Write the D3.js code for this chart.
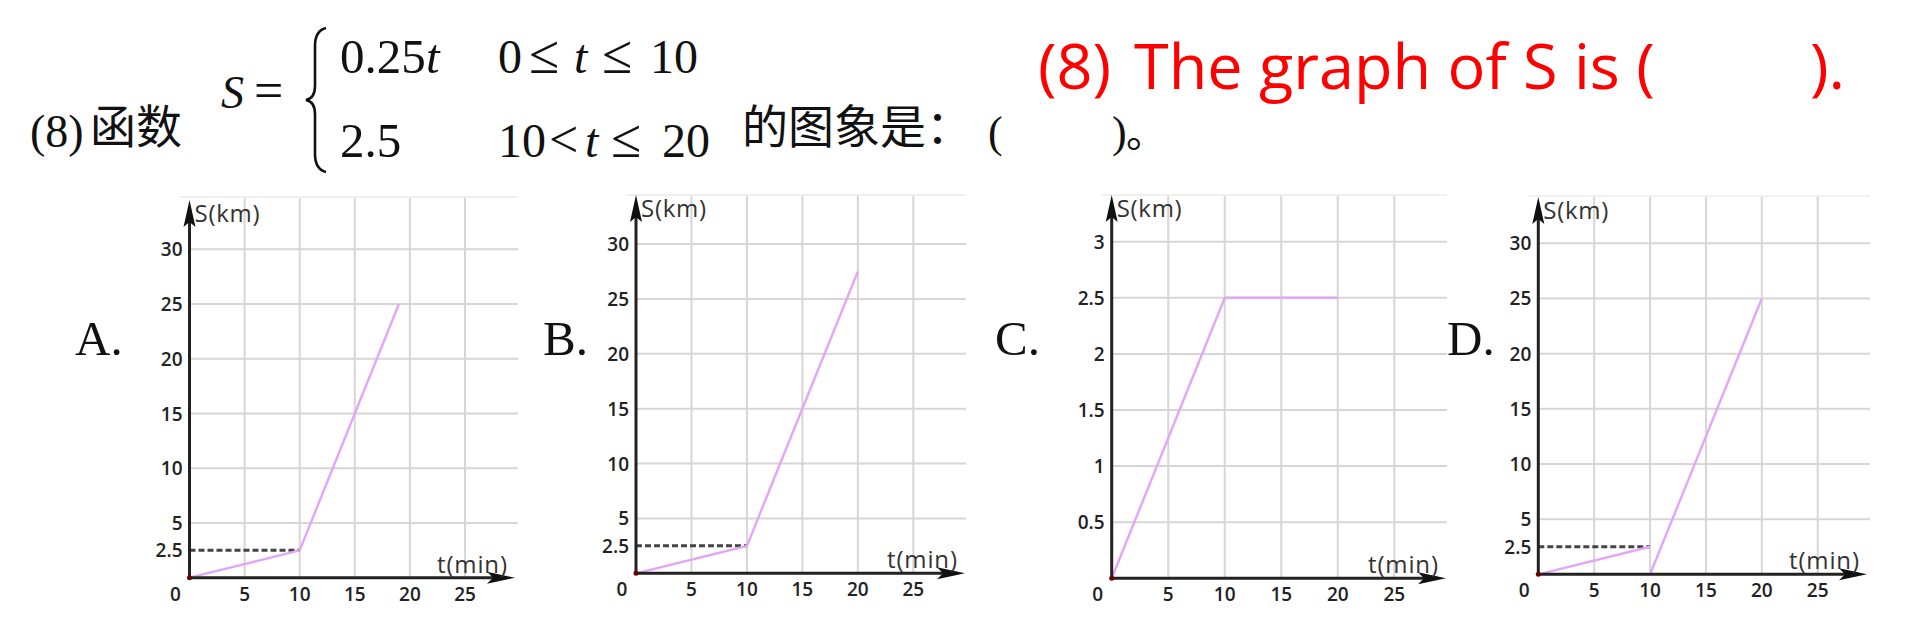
<!DOCTYPE html>
<html><head><meta charset="utf-8">
<script src="https://cdn.jsdelivr.net/npm/d3@7"></script>
<style>html,body{margin:0;padding:0;background:#fff;}svg{display:block;}</style>
</head><body>
<script>
// ---- data ----
const panelLabels = ["A.", "B.", "C.", "D."];
const xTicks = [0, 5, 10, 15, 20, 25];
const yTicksKm = [2.5, 5, 10, 15, 20, 25, 30];
const yGridKm = [5, 10, 15, 20, 25, 30];
const yTicksC = [0.5, 1, 1.5, 2, 2.5, 3];
const yGridC = [0.5, 1, 1.5, 2, 2.5, 3];
const seriesA = [[0, 0], [10, 2.5], [19, 25]];
const seriesB = [[0, 0], [10, 2.5], [20, 27.5]];
const seriesC = [[0, 0], [10, 2.5], [20, 2.5]];
const seriesD1 = [[0, 0], [10, 2.5]];
const seriesD2 = [[10, 0], [20, 25]];
const dashedRef = [[0, 2.5], [10, 2.5]];
const xAxisTitle = "t(min)";
const yAxisTitle = "S(km)";

// ---- layout (positions only) ----
const layout = [
  {labelX: 75, x0: 189.5, x25: 465, y0: 577.7, yTop: 249.3, yMax: 30, gridR: 518, gridT: 197, arrowX: 515, arrowY: 200,
   yTicks: yTicksKm, yGrid: yGridKm, segs: [seriesA], dashed: true},
  {labelX: 543, x0: 636, x25: 913.3, y0: 573.3, yTop: 244, yMax: 30, gridR: 966, gridT: 195, arrowX: 965, arrowY: 195,
   yTicks: yTicksKm, yGrid: yGridKm, segs: [seriesB], dashed: true},
  {labelX: 995, x0: 1111.7, x25: 1394.3, y0: 578.3, yTop: 241.7, yMax: 3, gridR: 1447, gridT: 195, arrowX: 1446, arrowY: 195,
   yTicks: yTicksC, yGrid: yGridC, segs: [seriesC], dashed: false},
  {labelX: 1447, x0: 1538.3, x25: 1817.7, y0: 574.3, yTop: 243.3, yMax: 30, gridR: 1870, gridT: 196, arrowX: 1867, arrowY: 197,
   yTicks: yTicksKm, yGrid: yGridKm, segs: [seriesD1, seriesD2], dashed: true}
];

const W = 1907, H = 634;
const svg = d3.select("body").append("svg").attr("width", W).attr("height", H);

// ---- header ----
const serif = "'Liberation Serif','Times New Roman',serif";
const cjk = "'Noto Sans CJK SC','Noto Sans',sans-serif";
const hdr = svg.append("g").attr("fill", "#111");
function t(x, y, s, fam, size, extra) {
  const e = hdr.append("text").attr("x", x).attr("y", y).attr("font-family", fam).attr("font-size", size).text(s);
  if (extra) extra(e);
  return e;
}
const it = e => e.attr("font-style", "italic");
t(30, 147, "(8)", serif, 46);
t(90, 143, "函数", cjk, 46);
t(221, 108, "S", serif, 46, it);
t(254, 108, "=", serif, 52);
// big left brace (decoration)
const bp = d3.path();
bp.moveTo(326, 28);
bp.bezierCurveTo(318, 30, 315, 36, 315, 46);
bp.lineTo(315, 86);
bp.bezierCurveTo(315, 95, 311, 99, 306, 100);
bp.bezierCurveTo(311, 101, 315, 105, 315, 114);
bp.lineTo(315, 154);
bp.bezierCurveTo(315, 164, 318, 170, 326, 172);
hdr.append("path").attr("d", bp.toString()).attr("fill", "none").attr("stroke", "#111").attr("stroke-width", 2.6);
// row 1
t(340, 73, "0.25", serif, 49);
t(426, 73, "t", serif, 49, it);
t(498, 73, "0", serif, 48);
t(529, 73, "≤", serif, 55);
t(574, 73, "t", serif, 48, it);
t(602, 73, "≤", serif, 55);
t(650, 73, "10", serif, 48);
// row 2
t(340, 157, "2.5", serif, 49);
t(498, 157, "10", serif, 48);
t(549, 157, "<", serif, 52);
t(585, 157, "t", serif, 48, it);
t(611, 157, "≤", serif, 55);
t(662, 157, "20", serif, 48);
t(742, 143, "的图象是：", cjk, 46);
t(988, 147, "(", serif, 44);
t(1112, 147, ")", serif, 44);
t(1126, 147, "。", cjk, 40);
// red english
const red = svg.append("g").attr("fill", "#ff0000").attr("font-family", "'Open Sans','Noto Sans',sans-serif").attr("font-size", 63);
red.append("text").attr("x", 1038).attr("y", 89).text("(8)");
red.append("text").attr("x", 1134).attr("y", 89).text("The graph of S is (");
red.append("text").attr("x", 1810).attr("y", 89).text(").");

// ---- panels ----
const sans = "'Open Sans','Noto Sans',sans-serif";
layout.forEach((L, i) => {
  const g = svg.append("g");
  const x = d3.scaleLinear().domain([0, 25]).range([L.x0, L.x25]);
  const y = d3.scaleLinear().domain([0, L.yMax]).range([L.y0, L.yTop]);

  // panel letter
  g.append("text").attr("x", L.labelX).attr("y", 355).attr("font-family", serif).attr("font-size", 49)
    .attr("fill", "#111").text(panelLabels[i]);

  // grid
  const grid = g.append("g").attr("stroke", "#d6d6d6").attr("stroke-width", 2);
  grid.selectAll("line.v").data(xTicks.filter(d => d > 0)).join("line")
    .attr("x1", d => x(d)).attr("x2", d => x(d)).attr("y1", L.gridT).attr("y2", L.y0);
  grid.selectAll("line.h").data(L.yGrid).join("line")
    .attr("x1", L.x0).attr("x2", L.gridR).attr("y1", d => y(d)).attr("y2", d => y(d));
  grid.append("line").attr("x1", L.x0 - 10).attr("x2", L.gridR).attr("y1", L.gridT).attr("y2", L.gridT)
    .attr("stroke", "#f0f0f0");

  // dashed reference
  if (L.dashed) {
    g.append("path").attr("d", d3.line().x(d => x(d[0])).y(d => y(d[1]))(dashedRef))
      .attr("fill", "none").attr("stroke", "#444").attr("stroke-width", 3).attr("stroke-dasharray", "6,3");
  }

  // data lines
  L.segs.forEach(s => {
    g.append("path").attr("d", d3.line().x(d => x(d[0])).y(d => y(d[1]))(s))
      .attr("fill", "none").attr("stroke", "#e2a6f6").attr("stroke-width", 2.4);
  });

  // axes
  const ax = g.append("g").attr("stroke", "#222").attr("stroke-width", 3);
  ax.append("line").attr("x1", L.x0).attr("x2", L.arrowX - 8).attr("y1", L.y0).attr("y2", L.y0);
  ax.append("line").attr("x1", L.x0).attr("x2", L.x0).attr("y1", L.y0).attr("y2", L.arrowY + 10);
  g.append("path").attr("fill", "#111")
    .attr("d", `M${L.arrowX},${L.y0} L${L.arrowX - 28},${L.y0 - 6} L${L.arrowX - 22},${L.y0} L${L.arrowX - 28},${L.y0 + 6} Z`);
  g.append("path").attr("fill", "#111")
    .attr("d", `M${L.x0},${L.arrowY} L${L.x0 - 6},${L.arrowY + 27} L${L.x0},${L.arrowY + 22} L${L.x0 + 6},${L.arrowY + 27} Z`);
  g.append("circle").attr("cx", x(0)).attr("cy", y(0)).attr("r", 2.5).attr("fill", "#6a0000");

  // tick labels
  const tl = g.append("g").attr("font-family", sans).attr("font-size", 19).attr("font-weight", 600).attr("fill", "#222");
  tl.selectAll("text.x").data(xTicks.filter(d => d > 0)).join("text")
    .attr("x", d => x(d)).attr("y", L.y0 + 23).attr("text-anchor", "middle").text(d => d);
  tl.append("text").attr("x", L.x0 - 14).attr("y", L.y0 + 23).attr("text-anchor", "middle").text(0);
  tl.selectAll("text.y").data(L.yTicks).join("text")
    .attr("x", L.x0 - 7).attr("y", d => y(d) + 7).attr("text-anchor", "end").text(d => d);

  // axis titles
  g.append("text").attr("x", L.x0 + 5).attr("y", L.arrowY + 22).attr("font-family", sans).attr("font-size", 24)
    .attr("textLength", 65).attr("fill", "#333").text(yAxisTitle);
  g.append("text").attr("x", L.arrowX - 78).attr("y", L.y0 - 5).attr("font-family", sans)
    .attr("font-size", 24).attr("textLength", 70).attr("fill", "#333").text(xAxisTitle);
});
</script>
</body></html>
